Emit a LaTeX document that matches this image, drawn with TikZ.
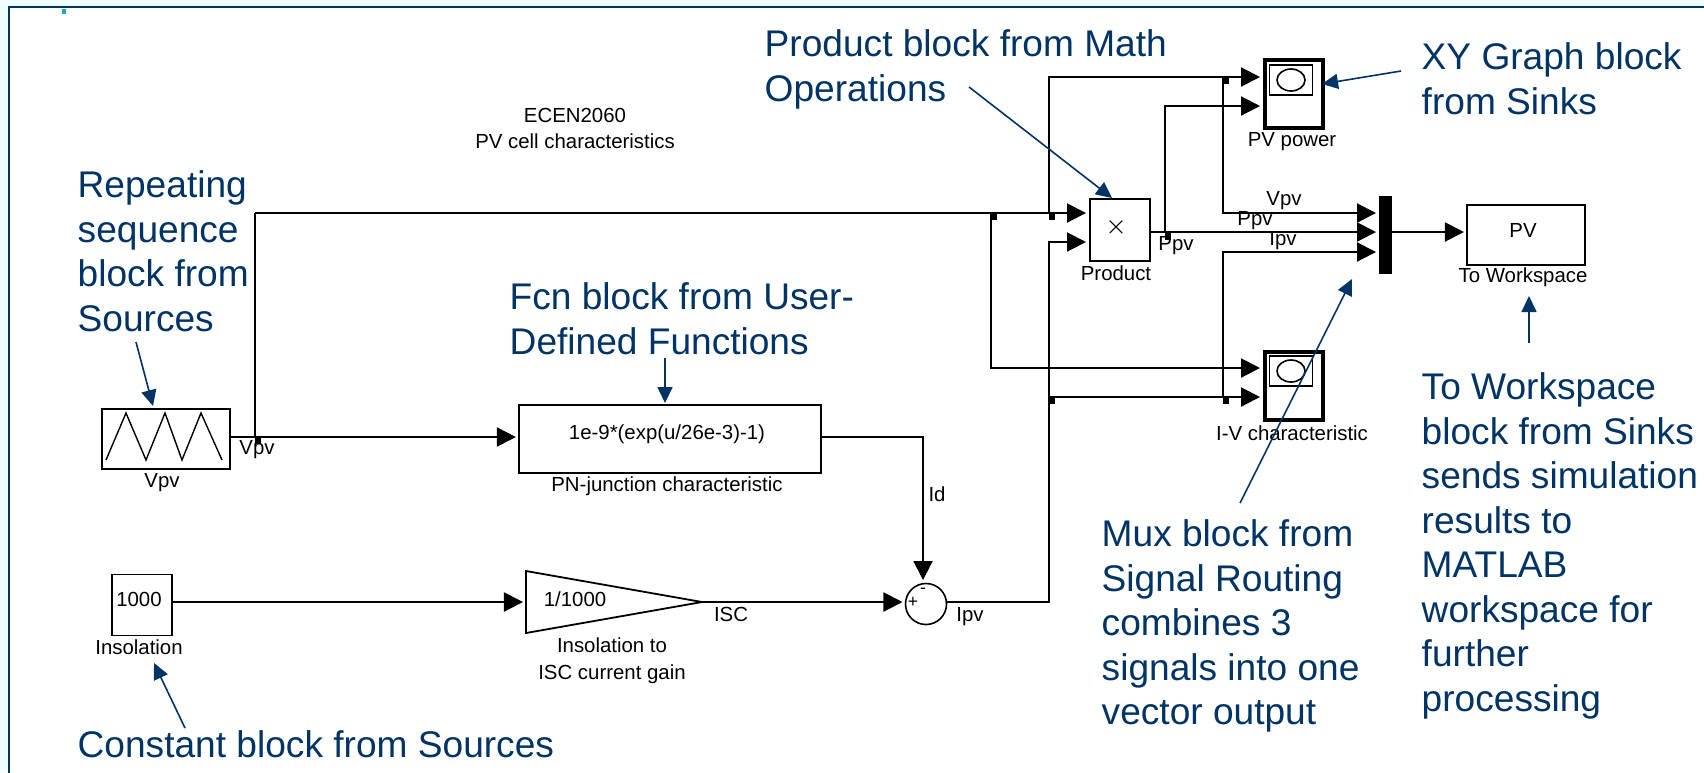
\documentclass[tikz,border=0pt]{standalone}
\usepackage{fontspec}
\setmainfont{Liberation Sans}
\usetikzlibrary{arrows.meta,calc}
\definecolor{notecol}{RGB}{0,51,102}
\definecolor{pagecol}{RGB}{238,255,255}
\tikzset{
	blockbox/.style={draw,line width=.018cm,inner sep=0,outer sep=0},
	scopebox/.style={draw,line width=.045cm,inner sep=0,outer sep=0,minimum width=.58cm,minimum height=.68cm},
	screenbox/.style={draw,line width=.014cm,inner sep=0,outer sep=0,minimum width=.43cm,minimum height=.30cm},
	tinytext/.style={font=\fontsize{5.8}{7}\selectfont,inner sep=0,align=center,yshift=-.015cm},
	notetext/.style={font=\fontsize{10.55}{12.65}\selectfont,text=notecol,inner sep=0,anchor=north west,align=left},
	signal/.style={line width=.02cm,-{Triangle[length=.19cm,width=.19cm]},shorten >=.03cm},
	wire/.style={line width=.02cm},
	pointer/.style={draw=notecol,line width=.016cm,-{Triangle[length=.16cm,width=.15cm]}},
	tapmark/.style={fill,inner sep=0,minimum width=.06cm,minimum height=.07cm},
}
\begin{document}
\begin{tikzpicture}[x=.01cm,y=-.01cm]
	\useasboundingbox (0,0) rectangle (1704,772);
	\fill[pagecol] (0,0) rectangle (1704,772);
	\fill[white,draw=notecol,line width=.025cm] (9,7) rectangle (1716,784);
	\fill[cyan!80!teal] (62,9) rectangle (66,14);
	% blocks
	\node[blockbox,minimum width=1.28cm,minimum height=.60cm] (vpvsrc) at (166,439) {};
	\draw[line width=.014cm] (106,460) -- (126,413) -- (146,460) -- (165,413) -- (182,460) -- (201,413) -- (222,460);
	\node[blockbox,minimum width=3.02cm,minimum height=.68cm] (pnfcn) at (670,439) {};
	\node[tinytext] at (667,433) {1e-9*(exp(u/26e-3)-1)};
	\node[blockbox,minimum width=.60cm,minimum height=.61cm] (insol) at (142,605) {};
	\node[tinytext] at (139,598) {1000};
	\node[blockbox,minimum width=.60cm,minimum height=.62cm] (prod) at (1120,230) {};
	\node[font=\fontsize{7}{8}\selectfont,inner sep=0] at (1116,227) {$\times$};
	\node[fill,inner sep=0,minimum width=.13cm,minimum height=.77cm] (mux) at (1385,235) {};
	\node[blockbox,minimum width=1.18cm,minimum height=.60cm] (wksp) at (1526,235) {};
	\node[tinytext] at (1523,229) {PV};
	\node[scopebox] (pwrscope) at (1294,94) {};
	\node[screenbox] at (1291,80) {};
	\draw[line width=.016cm] (1291,80) ellipse (14 and 11);
	\node[scopebox] (ivscope) at (1294,386) {};
	\node[screenbox] at (1291,371) {};
	\draw[line width=.016cm] (1291,371) ellipse (14 and 11);
	\draw[blockbox] (526,571) -- (702,602) -- (526,633) -- cycle;
	\coordinate (gainin) at (526,602);
	\coordinate (gainout) at (702,602);
	\node[tinytext] at (575,598) {1/1000};
	\node[draw,circle,line width=.016cm,inner sep=0,outer sep=0,minimum size=.41cm] (sumblk) at (926,604) {};
	\node[font=\fontsize{5}{6}\selectfont,inner sep=0] at (913,602) {+};
	\node[font=\fontsize{5}{6}\selectfont,inner sep=0] at (923,591) {-};
	% block names
	\node[tinytext] at (162,481) {Vpv};
	\node[tinytext] at (667,485) {PN-junction characteristic};
	\node[tinytext] at (139,646) {Insolation};
	\node[tinytext,align=center] at (612,659) {Insolation to\\[.02cm]ISC current gain};
	\node[tinytext] at (1116,272) {Product};
	\node[tinytext] at (1292,140) {PV power};
	\node[tinytext] at (1292,432) {I-V characteristic};
	\node[tinytext] at (1523,276) {To Workspace};
	\node[tinytext,align=center] at (575,127) {ECEN2060\\[.02cm]PV cell characteristics};
	% signal labels
	\node[tinytext] at (257,448) {Vpv};
	\node[tinytext] at (937,493) {Id};
	\node[tinytext] at (731,613) {ISC};
	\node[tinytext] at (970,615) {Ipv};
	\node[tinytext] at (1176,244) {Ppv};
	\node[tinytext] at (1255,219) {Ppv};
	\node[tinytext] at (1284,199) {Vpv};
	\node[tinytext] at (1283,239) {Ipv};
	% signals
	\coordinate (pwrin1) at (1263,77);
	\coordinate (pwrin2) at (1263,106);
	\coordinate (ivin1) at (1263,368);
	\coordinate (ivin2) at (1263,397);
	\coordinate (prodin1) at (1089,213);
	\coordinate (prodin2) at (1089,242);
	\coordinate (muxin1) at (1379,213);
	\coordinate (muxin2) at (1379,232);
	\coordinate (muxin3) at (1379,252);
	\coordinate (vsplit) at (255,437);
	\coordinate (vtop) at (255,213);
	\coordinate (ptop) at (1165,232);
	\coordinate (itap) at (1049,397);
	\coordinate (vtap) at (1223,77);
	\coordinate (itap2) at (1223,397);
	\draw[signal] (vpvsrc.east |- vsplit) -- (pnfcn.west |- vsplit);
	\draw[wire] (vsplit) -- (vtop);
	\draw[signal] (vtop) -- (prodin1);
	\draw[signal] (991,213) -- (991,368) -- (ivin1);
	\draw[signal] (1049,213) -- (1049,77) -- (pwrin1);
	\draw[signal] (vtap) -- (1223,213) -- (muxin1);
	\draw[signal] (itap2) -- (1223,252) -- (muxin3);
	\draw[signal] (itap) -- (ivin2);
	\draw[signal] (sumblk.east |- gainout) -- (1049,602) -- (1049,242) -- (prodin2);
	\draw[signal] (prod.east |- muxin2) -- (muxin2);
	\draw[signal] (ptop) -- (1165,106) -- (pwrin2);
	\draw[signal] (mux.east |- muxin2) -- (wksp.west |- muxin2);
	\draw[signal] (pnfcn.east |- vsplit) -- (923,437) -- (923,583);
	\draw[signal] (insol.east |- gainin) -- (gainin);
	\draw[signal] (gainout) -- (sumblk.west |- gainout);
	% branch points
	\node[tapmark] at (258,440) {};
	\node[tapmark] at (994,216) {};
	\node[tapmark] at (1052,216) {};
	\node[tapmark] at (1226,80) {};
	\node[tapmark] at (1168,236) {};
	\node[tapmark] at (1052,400) {};
	\node[tapmark] at (1226,400) {};
	% notes
	\node[notetext] (repnote) at (77,170) {Repeating\\sequence\\block from\\Sources};
	\node[notetext] (fcnnote) at (509,282) {Fcn block from User-\\Defined Functions};
	\node[notetext] (prodnote) at (764,29) {Product block from Math\\Operations};
	\node[notetext] (xynote) at (1421,42) {XY Graph block\\from Sinks};
	\node[notetext] (constnote) at (77,730) {Constant block from Sources};
	\node[notetext] (muxnote) at (1101,519) {Mux block from\\Signal Routing\\combines 3\\signals into one\\vector output};
	\node[notetext] (wsnote) at (1421,372) {To Workspace\\block from Sinks\\sends simulation\\results to\\MATLAB\\workspace for\\further\\processing};
	% pointers
	\draw[pointer] (136,342) -- (153,406);
	\draw[pointer] (665,358) -- (665,403);
	\draw[pointer] (969,87) -- (1112,198);
	\draw[pointer] (1401,71) -- (1322,84);
	\draw[pointer] (185,728) -- (154,663);
	\draw[pointer] (1240,503) -- (1352,279);
	\draw[pointer] (1529,343) -- (1529,296);
\end{tikzpicture}
\end{document}
